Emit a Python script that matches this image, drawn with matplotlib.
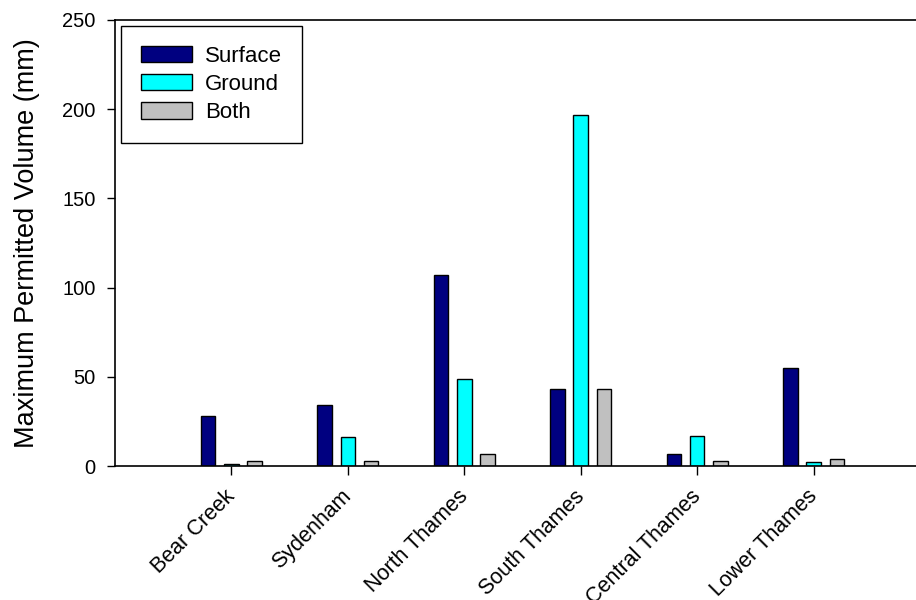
import matplotlib
matplotlib.use("Agg")
import matplotlib.pyplot as plt
import matplotlib.transforms as mtransforms
import numpy as np

plt.rcParams['font.family'] = ['Liberation Sans', 'DejaVu Sans']

regions = ["Bear Creek", "Sydenham", "North Thames", "South Thames", "Central Thames", "Lower Thames"]
surface = [28, 34, 107, 43, 7, 55]
ground = [1, 16, 49, 197, 17, 2]
both = [3, 3, 7, 43, 3, 4]

fig = plt.figure(figsize=(9.16, 6.0), dpi=100)
ax = fig.add_axes([0.1255, 0.2233, 0.8745, 0.7434])

x = np.arange(1, len(regions) + 1)
w = 0.125
step = 0.2
ax.bar(x - step, surface, w, color="#000080", edgecolor="black", linewidth=1, label="Surface")
ax.bar(x, ground, w, color="#00FFFF", edgecolor="black", linewidth=1, label="Ground")
ax.bar(x + step, both, w, color="#C0C0C0", edgecolor="black", linewidth=1, label="Both")

ax.set_xlim(0, 6.88)
ax.set_ylim(0, 250)
ax.set_yticks([0, 50, 100, 150, 200, 250])
ax.set_xticks(x)
ax.set_xticklabels([])

# rotated category labels, nudged so the end of each name sits just right of its tick
trans = ax.get_xaxis_transform() + mtransforms.ScaledTranslation(8 / 100, -20 / 100, fig.dpi_scale_trans)
for xi, name in zip(x, regions):
    ax.text(xi, 0, name, transform=trans, rotation=45, ha="right", va="top", fontsize=15.5)

ax.tick_params(axis="y", direction="out", length=6, width=1, pad=8, labelsize=14.5)
ax.tick_params(axis="x", direction="out", length=6.5, width=1)
ax.spines["right"].set_visible(False)
for s in ["left", "bottom", "top"]:
    ax.spines[s].set_linewidth(1.2)

ax.set_ylabel("Maximum Permitted Volume (mm)", fontsize=19.5, labelpad=16)

leg = ax.legend(loc="upper left", fontsize=16, fancybox=False, edgecolor="black",
                framealpha=1, handlelength=2.3, handleheight=0.75, handletextpad=0.6,
                labelspacing=0.33, borderpad=0.9, borderaxespad=0.25)
leg.get_frame().set_linewidth(1)

fig.savefig("out.png", dpi=100)
